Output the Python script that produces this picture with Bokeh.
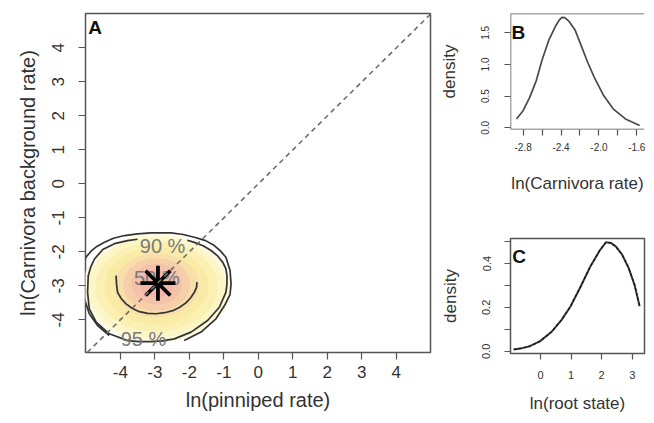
from bokeh.plotting import figure
from bokeh.models import Range1d, FixedTicker, PrintfTickFormatter, Slope, Label, Span
from bokeh.layouts import row, column
from bokeh.embed import file_html
from bokeh.resources import INLINE
from bokeh.core.properties import value

FONT = "Liberation Sans"
TXT = "#333333"
AX = "#555555"

# ---------------- Panel A data ----------------
a_ticks = [-4, -3, -2, -1, 0, 1, 2, 3, 4]
estimate_x = [-2.91]
estimate_y = [-2.92]

# 95 % contour (open where its label sits)
c95_x = [-2.15, -1.66, -1.23, -0.98, -0.82, -0.79, -0.82, -0.94, -1.10, -1.275, -1.53, -1.855, -2.18, -2.53,
         -3.11, -3.50, -3.88, -4.20, -4.46, -4.68, -4.85, -4.99, -5.08, -5.14, -5.15, -5.12, -5.05, -4.90,
         -4.66, -4.32]
c95_y = [-4.61, -4.36, -3.97, -3.58, -3.26, -2.94, -2.55, -2.16, -1.97, -1.815, -1.67, -1.57, -1.49, -1.44,
         -1.44, -1.47, -1.52, -1.60, -1.72, -1.84, -1.98, -2.15, -2.35, -2.57, -2.80, -3.05, -3.35, -3.82,
         -4.17, -4.46]

# 90 % contour (open where its label sits)
c90_x = [-2.06, -1.855, -1.60, -1.37, -1.18, -1.03, -0.94, -0.91, -0.91, -0.94, -1.13, -1.47, -1.95, -2.435,
         -2.78, -3.11, -3.45, -3.79, -4.32, -4.70, -4.90, -4.95, -4.93, -4.86, -4.75, -4.51, -4.17, -3.79, -3.50]
c90_y = [-1.66, -1.72, -1.82, -1.96, -2.12, -2.31, -2.50, -2.70, -2.95, -3.19, -3.63, -4.02, -4.36, -4.56,
         -4.62, -4.64, -4.64, -4.61, -4.41, -4.07, -3.68, -3.19, -2.70, -2.45, -2.21, -1.93, -1.76, -1.67, -1.63]

# 50 % contour (open arc)
c50_x = [-4.125, -4.11, -4.08, -3.97, -3.835, -3.66, -3.45, -3.21, -2.965, -2.72, -2.48, -2.28, -2.10, -1.96,
         -1.855, -1.79, -1.78]
c50_y = [-2.70, -2.95, -3.19, -3.38, -3.53, -3.66, -3.76, -3.81, -3.82, -3.79, -3.73, -3.63, -3.50, -3.35,
         -3.19, -3.04, -2.89]

contour_labels = ["50 %", "90 %", "95 %"]
contour_label_x = [-2.94, -2.775, -3.33]
contour_label_y = [-2.77, -1.84, -4.57]

# nested density levels (outer -> inner)
dens_cx = [-2.95, -2.95, -2.95, -2.95, -2.95, -2.95, -2.95, -2.95]
dens_cy = [-3.06, -3.05, -3.03, -3.01, -2.99, -2.97, -2.95, -2.93]
dens_w = [4.30, 4.00, 3.55, 3.00, 2.45, 1.95, 1.45, 0.95]
dens_h = [3.20, 2.96, 2.64, 2.26, 1.88, 1.56, 1.20, 0.82]
dens_colors = ["#fdf9dc", "#fcf5c6", "#fbf0b2", "#f9eaa6", "#f8dea8", "#f6cfaa", "#f4c1ab", "#f2b6aa"]

# ---------------- Panel B data ----------------
b_x = [-2.87, -2.80, -2.73, -2.66, -2.60, -2.53, -2.46, -2.42, -2.39, -2.36, -2.32, -2.25, -2.19, -2.12,
       -2.05, -1.95, -1.85, -1.72, -1.57]
b_y = [0.14, 0.27, 0.48, 0.75, 1.07, 1.38, 1.60, 1.70, 1.745, 1.74, 1.69, 1.54, 1.31, 1.04,
       0.80, 0.51, 0.30, 0.14, 0.035]
b_x_major = [-2.8, -2.4, -2.0, -1.6]
b_x_minor = [-2.6, -2.2, -1.8]
b_y_ticks = [0.0, 0.5, 1.0, 1.5]

# ---------------- Panel C data ----------------
c_x = [-0.875, -0.60, -0.35, -0.02, 0.375, 0.69, 0.98, 1.31, 1.625, 1.94, 2.14, 2.30, 2.46, 2.67, 2.88,
       3.08, 3.24]
c_y = [0.008, 0.014, 0.023, 0.045, 0.09, 0.143, 0.204, 0.294, 0.385, 0.46, 0.497, 0.494, 0.478, 0.44, 0.38,
       0.30, 0.205]
c_x_ticks = [-1, 0, 1, 2, 3]
c_y_major = [0.0, 0.2, 0.4]
c_y_minor = [0.1, 0.3, 0.5]


def style_axes(p, tick_font, label_font, xlab, ylab, tick_out=7):
    p.xgrid.visible = False
    p.ygrid.visible = False
    p.background_fill_color = "white"
    p.border_fill_color = "white"
    for ax in (p.xaxis[0], p.yaxis[0]):
        ax.axis_line_color = None
        ax.major_tick_line_color = AX
        ax.major_tick_line_width = 1.2
        ax.minor_tick_line_color = AX
        ax.minor_tick_line_width = 1.2
        ax.major_tick_in = 0
        ax.major_tick_out = tick_out
        ax.minor_tick_in = 0
        ax.minor_tick_out = tick_out
        ax.major_label_text_font = FONT
        ax.major_label_text_font_size = tick_font
        ax.major_label_text_color = TXT
        ax.axis_label_text_font = FONT
        ax.axis_label_text_font_size = label_font
        ax.axis_label_text_font_style = "normal"
        ax.axis_label_text_color = TXT
    p.xaxis.axis_label = xlab
    p.yaxis.axis_label = ylab
    p.yaxis.major_label_orientation = "vertical"


# ---------------- Panel A ----------------
pA = figure(width=434, height=415, output_backend="svg", toolbar_location=None,
            x_range=Range1d(-5.01, 4.99), y_range=Range1d(-4.96, 5.01),
            min_border_left=85, min_border_right=4, min_border_top=13, min_border_bottom=63)
style_axes(pA, "17px", "20px", "ln(pinniped rate)", "ln(Carnivora background rate)")
pA.xaxis.ticker = FixedTicker(ticks=a_ticks)
pA.yaxis.ticker = FixedTicker(ticks=a_ticks)
pA.xaxis.formatter = PrintfTickFormatter(format="%d")
pA.yaxis.formatter = PrintfTickFormatter(format="%d")
pA.xaxis.major_label_standoff = 6
pA.xaxis.axis_label_standoff = 8
pA.yaxis.major_label_standoff = 14
pA.yaxis.axis_label_standoff = 11
pA.outline_line_color = AX
pA.outline_line_width = 1.5

pA.ellipse(x=dens_cx, y=dens_cy, width=dens_w, height=dens_h, fill_color=dens_colors, line_color=None)
pA.line(c95_x, c95_y, line_color="#333333", line_width=1.7)
pA.line(c90_x, c90_y, line_color="#333333", line_width=1.7)
pA.line(c50_x, c50_y, line_color="#333333", line_width=1.7)
pA.text(x=contour_label_x, y=contour_label_y, text=contour_labels, text_font=value(FONT),
        text_font_size="20px", text_align="center", text_baseline="middle", text_color="#7a7a7a")
pA.add_layout(Slope(gradient=1, y_intercept=0, line_color="#6e6e6e", line_width=1.6, line_dash="5 4"))
pA.scatter(estimate_x, estimate_y, marker="asterisk", size=35, line_width=3.8, line_color="black")
pA.add_layout(Label(x=-4.93, y=4.92, text="A", text_font=FONT, text_font_size="19px",
                    text_font_style="bold", text_baseline="top", text_align="left", text_color="#111111"))

# ---------------- Panel B ----------------
pB = figure(width=212, height=218, output_backend="svg", toolbar_location=None,
            x_range=Range1d(-2.933, -1.519), y_range=Range1d(-0.027, 1.806),
            min_border_left=73, min_border_right=0, min_border_top=13, min_border_bottom=89)
style_axes(pB, "10px", "17px", "ln(Carnivora rate)", "density", tick_out=6)
pB.xaxis.ticker = FixedTicker(ticks=b_x_major, minor_ticks=b_x_minor)
pB.yaxis.ticker = FixedTicker(ticks=b_y_ticks)
pB.xaxis.formatter = PrintfTickFormatter(format="%.1f")
pB.yaxis.formatter = PrintfTickFormatter(format="%.1f")
pB.xaxis.major_label_standoff = 7
pB.xaxis.axis_label_standoff = 20
pB.yaxis.major_label_standoff = 15
pB.yaxis.axis_label_standoff = 20
pB.outline_line_color = None
pB.add_layout(Span(location=-2.933, dimension="height", line_color=AX, line_width=1.5))
pB.add_layout(Span(location=1.806, dimension="width", line_color=AX, line_width=1.5))
pB.add_layout(Span(location=-0.027, dimension="width", line_color=AX, line_width=1.5))
pB.line(b_x, b_y, line_color="#4a4a4a", line_width=1.7)
pB.add_layout(Label(x=-2.923, y=1.67, text="B", text_font=FONT, text_font_size="19px",
                    text_font_style="bold", text_baseline="top", text_align="left", text_color="#111111"))

# ---------------- Panel C ----------------
pC = figure(width=212, height=197, output_backend="svg", toolbar_location=None,
            x_range=Range1d(-0.98, 3.40), y_range=Range1d(-0.0104, 0.514),
            min_border_left=76, min_border_right=2, min_border_top=20, min_border_bottom=61)
style_axes(pC, "11px", "17px", "ln(root state)", "density", tick_out=6)
pC.xaxis.ticker = FixedTicker(ticks=c_x_ticks)
pC.yaxis.ticker = FixedTicker(ticks=c_y_major, minor_ticks=c_y_minor)
pC.xaxis.formatter = PrintfTickFormatter(format="%d")
pC.yaxis.formatter = PrintfTickFormatter(format="%.1f")
pC.xaxis.major_label_standoff = 11
pC.xaxis.axis_label_standoff = 12
pC.yaxis.major_label_standoff = 14
pC.yaxis.axis_label_standoff = 20
pC.outline_line_color = AX
pC.outline_line_width = 1.5
pC.line(c_x, c_y, line_color="#3a3a3a", line_width=2.0)
pC.line(c_x, c_y, line_color="#111111", line_width=1.2, line_dash="3 2")
pC.add_layout(Label(x=-0.924, y=0.478, text="C", text_font=FONT, text_font_size="19px",
                    text_font_style="bold", text_baseline="top", text_align="left", text_color="#111111"))

layout = row(pA, column(pB, pC))
open("out.html", "w").write(file_html(layout, INLINE))
